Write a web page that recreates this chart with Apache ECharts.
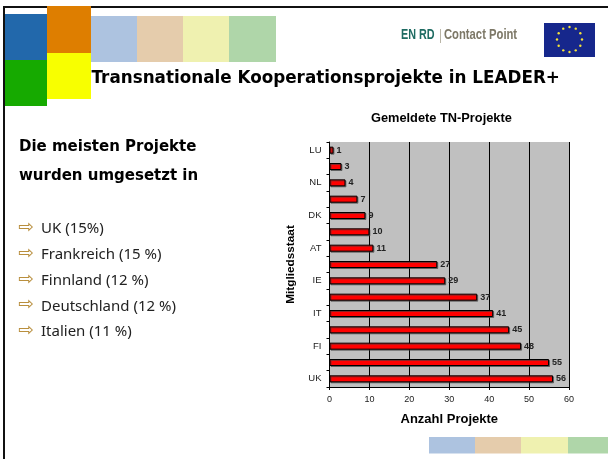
<!DOCTYPE html>
<html><head><meta charset="utf-8">
<style>html,body{margin:0;padding:0;background:#fff}#c{width:608px;height:459px}</style>
<script src="https://cdn.jsdelivr.net/npm/echarts@6/dist/echarts.min.js"></script>
</head><body><div id="c"></div>
<script>
const categories = ['UK','','FI','','IT','','IE','','AT','','DK','','NL','','LU'];
const projectCounts = [56,55,48,45,41,37,29,27,11,10,9,7,4,3,1];
const valueTicks = [0,10,20,30,40,50,60];
const slideTitle = 'Transnationale Kooperationsprojekte in LEADER+';
const chartTitle = 'Gemeldete TN-Projekte';
const xName = 'Anzahl Projekte';
const yName = 'Mitgliedsstaat';
const headline = ['Die meisten Projekte','wurden umgesetzt in'];
const bullets = ['UK (15%)','Frankreich (15 %)','Finnland (12 %)','Deutschland (12 %)','Italien (11 %)'];

const rect=(x,y,w,h,fill,z=1)=>({type:'rect',shape:{x,y,width:w,height:h},style:{fill},z,silent:true});
const text=(x,y,t,font,fill='#000',extra={})=>Object.assign({type:'text',x,y,z:5,silent:true,style:{text:t,font,fill,textVerticalAlign:'middle'}},extra);
const TA='"DejaVu Sans"';
const g=[
 rect(3,6,605,2,'#111'),rect(3,6,2,453,'#111'),
 rect(91,16,46,46,'#adc3e0'),rect(137,16,46,46,'#e5ccac'),rect(183,16,46,46,'#eff1b0'),rect(229,16,47,46,'#afd6a9'),
 rect(5,14,42,46,'#2268ab',2),rect(47,6,44,47,'#de7e00',2),rect(5,60,42,46,'#16aa00',2),rect(47,53,44,46,'#f8ff00',2),
 rect(429,437,46,16.5,'#adc3e0'),rect(475,437,46,16.5,'#e5ccac'),rect(521,437,47,16.5,'#eff1b0'),rect(568,437,40,16.5,'#afd6a9'),
 text(401,35,'EN RD','bold 15px "Liberation Sans"','#1e6b62',{scaleX:.72}),
 rect(440,29,1,14,'#b9b5a6'),
 text(444,35,'Contact Point','bold 15px "Liberation Sans"','#7d7867',{scaleX:.75}),
 rect(544,23,51,34,'#16278c'),
 text(91.5,79,slideTitle,'bold 16.8px '+TA),
 text(19,147,headline[0],'bold 15px '+TA),
 text(19,176,headline[1],'bold 15px '+TA)
];
for(let i=0;i<12;i++){const a=i*Math.PI/6;g.push({type:'circle',shape:{cx:569.5+12.5*Math.cos(a),cy:39.5+12.5*Math.sin(a),r:1.2},style:{fill:'#f4e23a'},z:3,silent:true});}
bullets.forEach((b,i)=>{const y=229+i*25.8;
 g.push(text(18,y-1,'⇨','19px '+TA,'#b98f3e'));
 g.push(text(41,y,b,'15px "Noto Sans",'+TA,'#222'));});
const chart=echarts.init(document.getElementById('c'),null,{renderer:'canvas'});
chart.setOption({
 animation:false,backgroundColor:'#fff',
 title:{text:chartTitle,left:366,top:107,textStyle:{fontFamily:'Liberation Sans',fontSize:12.8,fontWeight:'bold',color:'#000'}},
 grid:{left:329.5,top:142,width:239.5,height:245,show:true,backgroundColor:'#c0c0c0',borderWidth:0,containLabel:false},
 xAxis:{type:'value',min:0,max:60,interval:valueTicks[1]-valueTicks[0],
  name:xName,nameLocation:'middle',nameGap:26,nameTextStyle:{fontFamily:'Liberation Sans',fontSize:13,fontWeight:'bold',color:'#000'},
  axisLine:{show:true,lineStyle:{color:'#000',width:1}},axisTick:{show:true,length:3,lineStyle:{color:'#000'}},
  axisLabel:{fontFamily:'Liberation Sans',fontSize:9,color:'#222',margin:8},
  splitLine:{show:true,lineStyle:{color:'#000',width:1}}},
 yAxis:{type:'category',data:categories,
  name:yName,nameLocation:'middle',nameGap:33,nameRotate:90,nameTextStyle:{fontFamily:'Liberation Sans',fontSize:11.8,fontWeight:'bold',color:'#000'},
  axisLine:{show:true,lineStyle:{color:'#000',width:1}},axisTick:{show:true,length:3,alignWithLabel:false,interval:0,lineStyle:{color:'#000'}},
  axisLabel:{interval:0,fontFamily:'Liberation Sans',fontSize:9.5,color:'#222',margin:8},splitLine:{show:false}},
 series:[{type:'bar',data:projectCounts,barWidth:7,
  itemStyle:{color:'#ff0000',borderColor:'#000',borderWidth:1,shadowColor:'rgba(60,60,60,.6)',shadowOffsetX:1,shadowOffsetY:1,shadowBlur:0},
  label:{show:true,position:'right',distance:3,fontFamily:'Liberation Sans',fontSize:9,fontWeight:'bold',color:'#222'}}],
 graphic:{elements:g}
});
</script></body></html>
